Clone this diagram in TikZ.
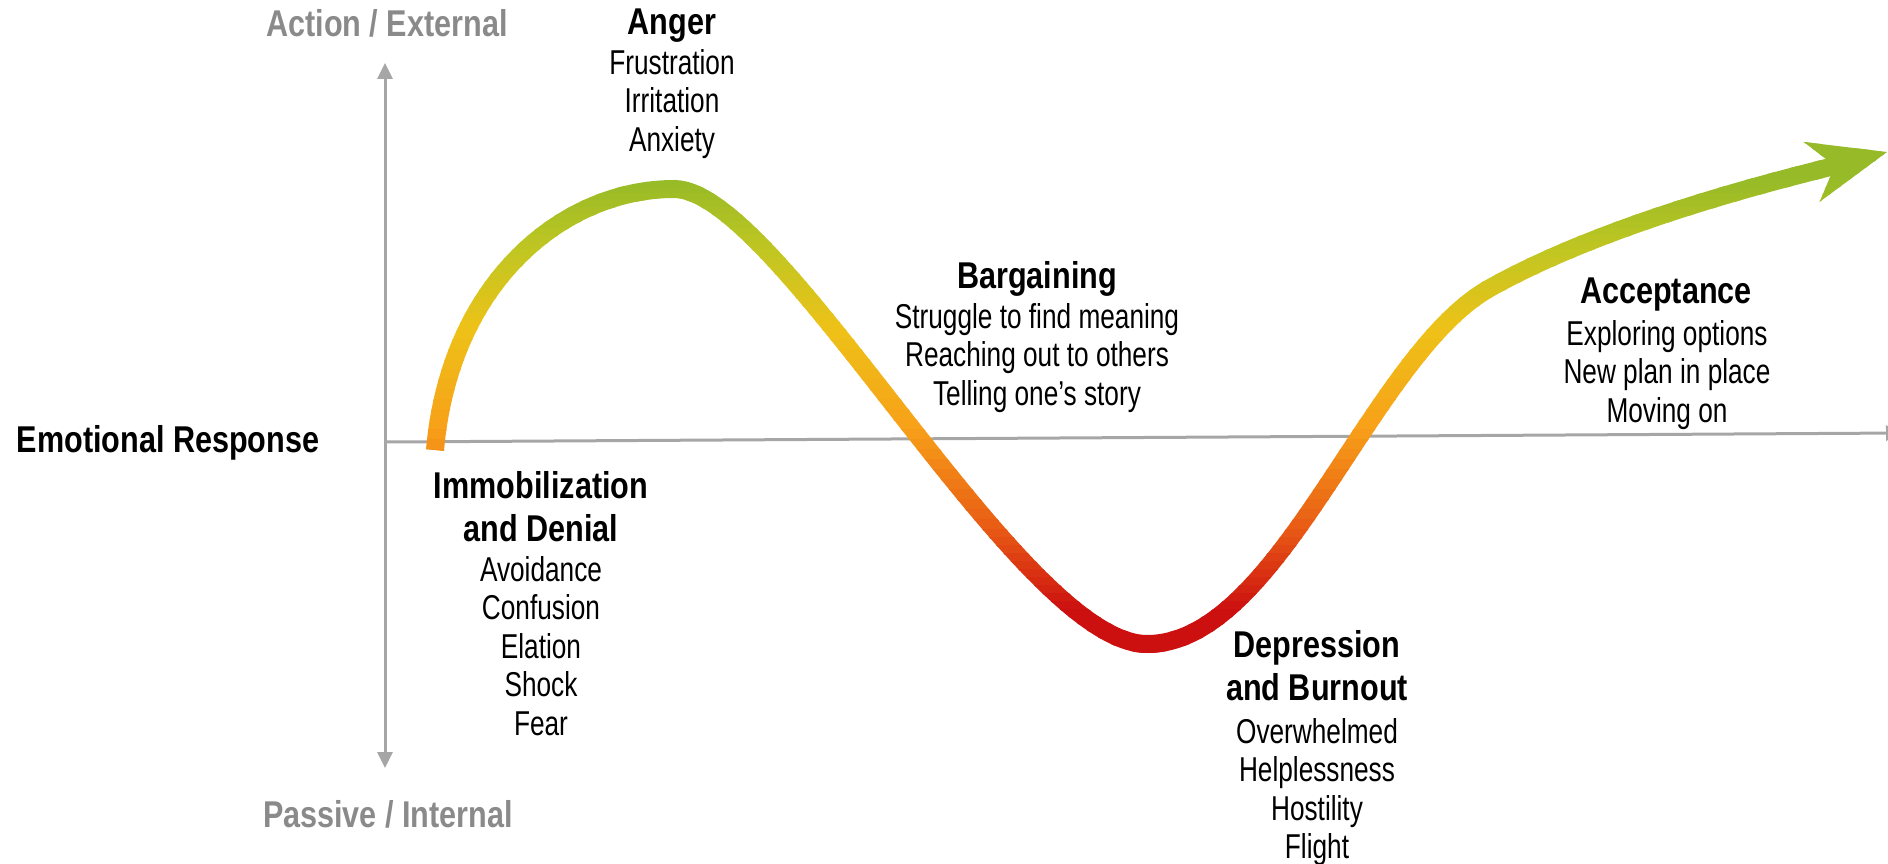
\documentclass[tikz,border=0pt]{standalone}
\usepackage{fontspec}
\setmainfont{Liberation Sans}[FakeStretch=0.76]
\newfontfamily\headfont{Liberation Sans}[FakeStretch=0.82]
\usepackage{tikz}
\usetikzlibrary{arrows.meta}
\definecolor{leaf}{RGB}{150,186,40}
\definecolor{lime}{RGB}{192,198,34}
\definecolor{sun}{RGB}{238,194,24}
\definecolor{amber}{RGB}{247,160,24}
\definecolor{flame}{RGB}{232,90,20}
\definecolor{blood}{RGB}{204,16,16}
\definecolor{axisgray}{RGB}{166,166,166}
\definecolor{labelgray}{RGB}{138,138,138}
\definecolor{ink}{RGB}{0,0,0}

% the change curve, in pixel units
\newcommand{\emocurve}{(435,450) .. controls (450,280) and (565,189) .. (674,189)
  .. controls (780,189) and (1020,644) .. (1147,644)
  .. controls (1280,644) and (1370,355) .. (1490,288)
  .. controls (1615,218) and (1800,175) .. (1887,152)}

\begin{document}
\begin{tikzpicture}[x=1pt,y=-1pt,
  ttl/.style={font=\headfont\bfseries\fontsize{37.3}{43}\selectfont,align=center,anchor=north,inner sep=0pt,text=ink},
  items/.style={font=\fontsize{34.5}{38.5}\selectfont,align=center,anchor=north,inner sep=0pt,text=ink},
  axislabel/.style={ttl,text=labelgray},
  axisline/.style={draw=axisgray,line width=3pt,-{Triangle[length=16pt,width=15pt]}},
  curve/.style={line width=18pt,-{Stealth[length=78pt,width=62pt,inset=24pt,line width=0pt]}}]
  \useasboundingbox (0,0) rectangle (1888,864);

  % axes
  \coordinate (origin) at (385,442);
  \coordinate (top) at (385,63);
  \coordinate (bottom) at (385,768);
  \coordinate (right) at (1902,433);
  \draw[axisline] (origin) -- (top);
  \draw[axisline] (origin) -- (bottom);
  \draw[axisline] (origin) -- (right);

  % curve coloured by height: green up top, red at the bottom
  \foreach \ya/\yb/\ca/\cb in {120/180/leaf/leaf,180/250/leaf/lime,250/330/lime/sun,
                               330/430/sun/amber,430/530/amber/flame,530/610/flame/blood,
                               610/680/blood/blood} {
    \foreach \k in {0,...,9} {
      \pgfmathtruncatemacro\p{10*\k+5}
      \pgfmathsetmacro\lo{\ya+(\yb-\ya)*\k/10-1}
      \pgfmathsetmacro\hi{\ya+(\yb-\ya)*(\k+1)/10}
      \colorlet{bandcol}{\cb!\p!\ca}
      \begin{scope}
        \clip (300,\lo) rectangle (1950,\hi);
        \draw[curve,draw=bandcol] \emocurve;
      \end{scope}
    }
  }

  % labels
  \node[axislabel] (actlbl) at (387,9) {Action / External};
  \node[axislabel] (paslbl) at (388,800) {Passive / Internal};
  \node[ttl] (resp) at (168,425) {Emotional Response};

  \node[ttl] (anger) at (672,9) {Anger};
  \node[items] (angerlist) at (672,49) {Frustration\\Irritation\\Anxiety};

  \node[ttl] (denial) at (541,471) {Immobilization\\and Denial};
  \node[items] (deniallist) at (541,556) {Avoidance\\Confusion\\Elation\\Shock\\Fear};

  \node[ttl] (bargain) at (1037,261) {Bargaining};
  \node[items] (bargainlist) at (1037,303) {Struggle to find meaning\\Reaching out to others\\Telling one’s story};

  \node[ttl] (depress) at (1317,630) {Depression\\and Burnout};
  \node[items] (depresslist) at (1317,718) {Overwhelmed\\Helplessness\\Hostility\\Flight};

  \node[ttl] (accept) at (1666,278) {Acceptance};
  \node[items] (acceptlist) at (1667,320) {Exploring options\\New plan in place\\Moving on};
\end{tikzpicture}
\end{document}
